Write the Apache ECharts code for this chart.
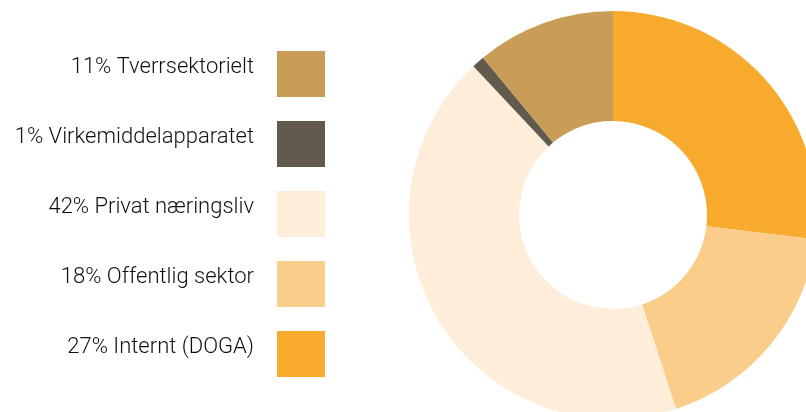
<!DOCTYPE html>
<html>
<head>
<meta charset="utf-8">
<script src="https://cdn.jsdelivr.net/npm/echarts@6/dist/echarts.min.js"></script>
<style>
	html, body { margin: 0; padding: 0; background: #ffffff; }
	#chart { width: 806px; height: 412px; }
</style>
</head>
<body>
<div id="chart"></div>
<script>
// slices, clockwise from 12 o'clock
const categories = ['Internt (DOGA)', 'Offentlig sektor', 'Privat næringsliv', 'Virkemiddelapparatet', 'Tverrsektorielt'];
const shares = [26.9, 18.1, 43.0, 1.0, 11.0]; // slice sizes
const labelPct = [27, 18, 42, 1, 11]; // percentages printed in the legend
const colors = ['#F8AA2F', '#FBCD8A', '#FDEDD9', '#625B4D', '#C99D57'];

const chart = echarts.init(document.getElementById('chart'), null, { renderer: 'canvas' });

const option = {
	animation: false,
	backgroundColor: '#ffffff',
	color: colors,
	legend: {
		orient: 'vertical',
		right: 481,
		top: 51,
		padding: 0,
		align: 'right',
		icon: 'rect',
		itemWidth: 48,
		itemHeight: 46,
		itemGap: 24,
		selectedMode: false,
		// legend lists the categories bottom-up
		data: categories.slice().reverse(),
		formatter: (name) => '{t|' + labelPct[categories.indexOf(name)] + '% ' + name + '}',
		textStyle: {
			rich: {
				t: {
					fontFamily: 'Roboto',
					fontSize: 22,
					fontWeight: 300,
					color: '#111111',
					lineHeight: 26,
					padding: [0, 18, 14, 0],
				},
			},
		},
	},
	series: [
		{
			type: 'pie',
			center: [613, 215],
			radius: [94, 204],
			startAngle: 90,
			clockwise: true,
			silent: true,
			label: { show: false },
			labelLine: { show: false },
			itemStyle: { borderWidth: 0 },
			data: categories.map((name, i) => ({ name: name, value: shares[i] })),
		},
	],
};

chart.setOption(option);
</script>
</body>
</html>
